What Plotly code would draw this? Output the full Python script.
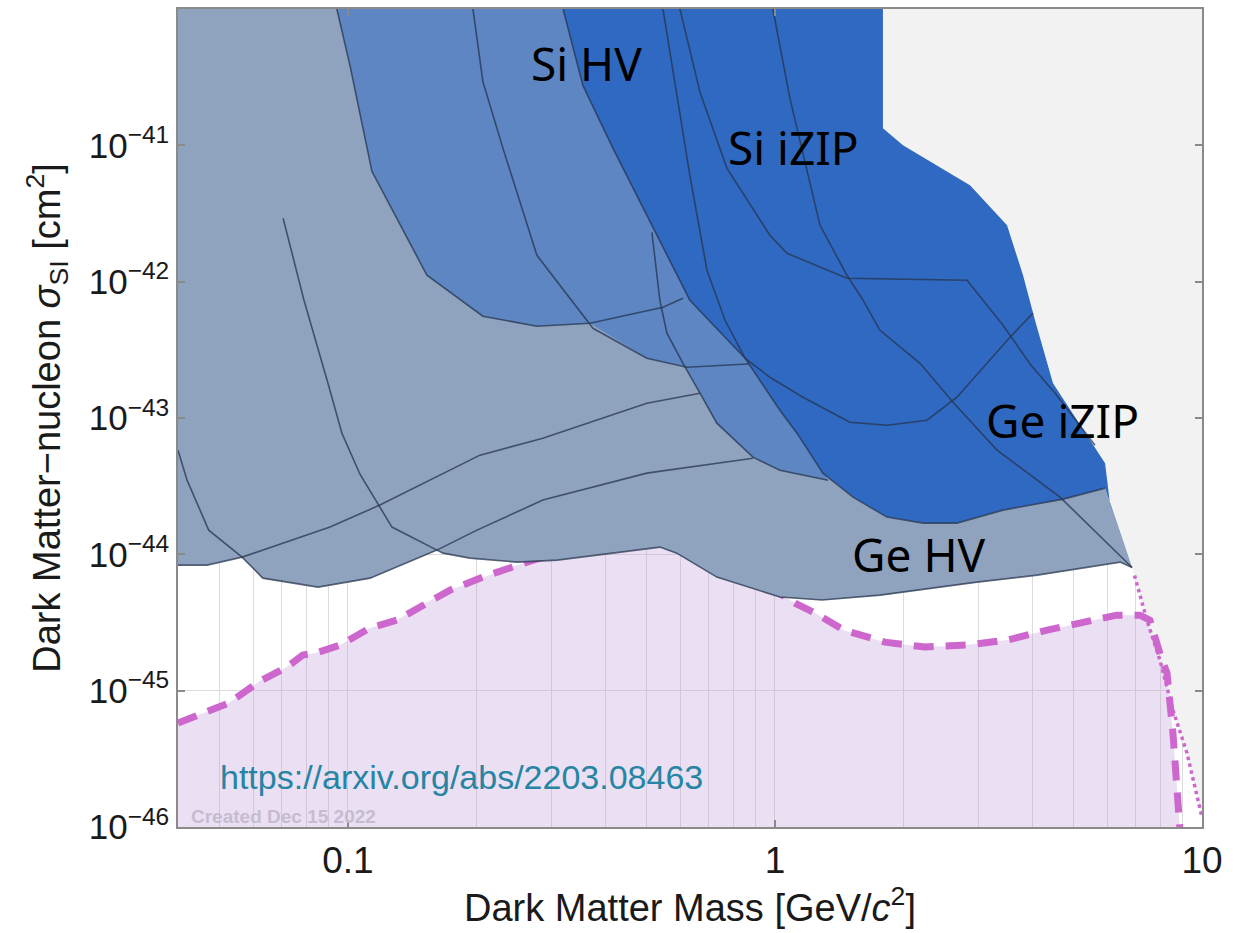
import math
import plotly.graph_objects as go

# ---------------- axis limits ----------------
X_MIN, X_MAX = 0.04, 10.0
Y_MIN, Y_MAX = 1e-46, 1e-40

# ---------------- Ge HV (lower exclusion edge and curves) ----------------
GE_HV_EDGE_M = [0.04, 0.0468, 0.0565, 0.0632, 0.0851, 0.1126, 0.1616, 0.167, 0.193, 0.249, 0.309,
                0.411, 0.538, 0.589, 0.731, 1.027, 1.289, 1.762, 2.97, 4.11, 6.43, 6.86]
GE_HV_EDGE_S = [8.34e-45, 8.34e-45, 9.54e-45, 6.69e-45, 5.75e-45, 6.69e-45, 1.074e-44, 1.02e-44, 9.38e-45,
                8.77e-45, 9.07e-45, 1.02e-44, 1.13e-44, 1.02e-44, 6.81e-45, 4.86e-45, 4.62e-45, 5.02e-45,
                6.25e-45, 7.04e-45, 8.77e-45, 8.0e-45]

GE_HV_A_M = [0.0705, 0.0789, 0.0898, 0.0968, 0.1067, 0.1188, 0.1268, 0.1616, 0.167, 0.193, 0.249, 0.309,
             0.411, 0.538, 0.589, 0.731, 1.027, 1.289, 1.762, 2.97, 4.11, 6.43, 6.86]
GE_HV_A_S = [2.92e-42, 7.31e-43, 1.80e-43, 7.74e-44, 3.87e-44, 2.22e-44, 1.585e-44, 1.074e-44, 1.02e-44,
             9.38e-45, 8.77e-45, 9.07e-45, 1.02e-44, 1.13e-44, 1.02e-44, 6.81e-45, 4.86e-45, 4.62e-45,
             5.02e-45, 6.25e-45, 7.04e-45, 8.77e-45, 8.0e-45]
GE_HV_B_M = [0.04, 0.042, 0.0472, 0.0565, 0.0632, 0.0851, 0.1126, 0.1616, 0.2005, 0.286, 0.501, 0.888]
GE_HV_B_S = [5.81e-44, 3.50e-44, 1.505e-44, 9.54e-45, 6.69e-45, 5.75e-45, 6.69e-45, 1.074e-44, 1.505e-44,
             2.50e-44, 3.94e-44, 5.07e-44]
GE_HV_C_M = [0.04, 0.0468, 0.0565, 0.0908, 0.1188, 0.1556, 0.2038, 0.286, 0.501, 0.6675]
GE_HV_C_S = [8.34e-45, 8.34e-45, 9.54e-45, 1.585e-44, 2.30e-44, 3.50e-44, 5.34e-44, 7.11e-44, 1.284e-43, 1.52e-43]

# ---------------- Si HV ----------------
SI_HV_EDGE_M = [0.0942, 0.1011, 0.1138, 0.1531, 0.207, 0.277, 0.3688, 0.501, 0.615, 0.6675, 0.731, 0.888,
                1.027, 1.331]
SI_HV_EDGE_S = [1e-40, 3.86e-41, 6.45e-42, 1.114e-42, 5.58e-43, 4.71e-43, 4.95e-43, 2.745e-43, 2.40e-43,
                1.52e-43, 9.16e-44, 5.16e-44, 4.14e-44, 3.50e-44]
SI_HV_A_M = [0.0942, 0.1011, 0.1138, 0.1531, 0.207, 0.277, 0.3688, 0.5467, 0.609]
SI_HV_A_S = [1e-40, 3.86e-41, 6.45e-42, 1.114e-42, 5.58e-43, 4.71e-43, 4.95e-43, 6.49e-43, 7.55e-43]
SI_HV_B_M = [0.1962, 0.207, 0.2307, 0.277, 0.3748, 0.501, 0.622, 0.884]
SI_HV_B_S = [1e-40, 2.94e-41, 9.5e-42, 1.561e-42, 4.55e-43, 2.745e-43, 2.357e-43, 2.5e-43]
SI_HV_C_M = [0.515, 0.538, 0.5585, 0.609, 0.6675, 0.731, 0.888, 1.027, 1.331]
SI_HV_C_S = [2.30e-42, 7.18e-43, 4.19e-43, 2.52e-43, 1.52e-43, 9.16e-44, 5.16e-44, 4.14e-44, 3.50e-44]

# ---------------- iZIP (Si + Ge) ----------------
IZIP_EDGE_M = [0.319, 0.355, 0.4175, 0.510, 0.632, 0.851, 1.027, 1.126, 1.295, 1.523, 1.829, 2.222, 2.668,
               3.42, 4.73, 5.93, 6.86]
IZIP_EDGE_S = [1e-40, 2.75e-41, 9.5e-42, 2.77e-42, 7.31e-43, 2.745e-43, 1.14e-43, 7.74e-44, 3.94e-44,
               2.63e-44, 1.875e-44, 1.694e-44, 1.694e-44, 2.11e-44, 2.54e-44, 3.06e-44, 8.0e-45]
IZIP_RIGHT_M = [1.79, 1.79, 1.994, 2.862, 3.495, 3.81, 4.064, 4.478, 5.468, 5.93, 6.087, 6.86]
IZIP_RIGHT_S = [1e-40, 1.333e-41, 1e-41, 5.09e-42, 2.59e-42, 1.114e-42, 5.21e-43, 1.80e-43, 6.88e-44,
                4.66e-44, 2.37e-44, 8.0e-45]
IZIP_F_M = [0.319, 0.355, 0.4175, 0.510, 0.632, 0.851, 0.973, 1.163, 1.498, 1.829, 2.27, 2.668, 3.55, 4.02]
IZIP_F_S = [1e-40, 2.75e-41, 9.5e-42, 2.77e-42, 7.31e-43, 2.745e-43, 1.99e-43, 1.42e-43, 9.31e-44, 8.85e-44,
            9.64e-44, 1.42e-43, 3.91e-43, 5.87e-43]
IZIP_D1_M = [0.5467, 0.589, 0.632, 0.693, 0.764, 0.851, 1.027, 1.126, 1.295, 1.523, 1.829, 2.222, 2.668,
             3.42, 4.73, 5.93]
IZIP_D1_S = [1e-40, 2.45e-41, 6.03e-42, 1.213e-42, 5.21e-43, 2.745e-43, 1.14e-43, 7.74e-44, 3.94e-44,
             2.63e-44, 1.875e-44, 1.694e-44, 1.694e-44, 2.11e-44, 2.54e-44, 3.06e-44]
IZIP_D2_M = [0.599, 0.6675, 0.772, 0.973, 1.067, 1.474, 2.817, 3.42, 3.977, 4.53, 5.615]
IZIP_D2_S = [1e-40, 2.45e-41, 6.78e-42, 2.19e-42, 1.615e-42, 1.059e-42, 1.024e-42, 4.79e-43, 2.44e-43,
             1.52e-43, 6.32e-44]
IZIP_E_M = [0.989, 1.084, 1.275, 1.474, 1.608, 1.762, 2.186, 2.612, 3.311, 4.65, 6.86]
IZIP_E_S = [1e-40, 2.21e-41, 2.59e-42, 1.114e-42, 7.31e-43, 4.40e-43, 2.52e-43, 1.305e-43, 5.81e-44,
            2.63e-44, 8.0e-45]

# ---------------- neutrino fog ----------------
NU_FLOOR_M = [0.04, 0.0526, 0.0622, 0.072, 0.0784, 0.0841, 0.0958, 0.1126, 0.1302, 0.1531, 0.1733, 0.207,
              0.2357, 0.2668, 0.2972, 0.389, 0.510, 0.6675, 0.874, 1.114, 1.241, 1.451, 1.81, 2.245, 2.80,
              3.495, 4.335, 5.555, 6.32, 7.157, 7.55, 8.017, 8.28, 8.55, 8.74, 8.88]
NU_FLOOR_S = [5.79e-46, 8.11e-46, 1.175e-45, 1.49e-45, 1.824e-45, 1.887e-45, 2.16e-45, 2.88e-45, 3.29e-45,
              4.46e-45, 5.46e-45, 6.81e-45, 7.92e-45, 8.91e-45, 9.87e-45, 1.168e-44, 1.27e-44, 1.074e-44,
              7.04e-45, 4.39e-45, 3.71e-45, 2.78e-45, 2.27e-45, 2.09e-45, 2.16e-45, 2.35e-45, 2.78e-45,
              3.29e-45, 3.58e-45, 3.58e-45, 3.29e-45, 1.763e-45, 1.346e-45, 4.89e-46, 1.965e-46, 9.5e-47]
NU_DOT_M = [6.95, 7.12, 7.43, 7.97, 8.55, 9.22, 10.0]
NU_DOT_S = [7.0e-45, 5.28e-45, 3.29e-45, 1.676e-45, 7.21e-46, 3.49e-46, 1.18e-46]

# ---------------- tick labels ----------------
X_TICKS = [0.1, 1, 10]
X_TICK_TEXT = ["0.1", "1", "10"]
Y_EXPONENTS = [-46, -45, -44, -43, -42, -41]

LABELS = ["Si HV", "Si iZIP", "Ge iZIP", "Ge HV"]

# ---------------- styles ----------------
C_GEHV = "#8fa3be"
C_SIHV = "#5d86c3"
C_IZIP = "#3069c1"
C_LINE = "rgba(38,52,78,0.75)"
C_OUT = "#f2f2f2"
C_FOG = "rgba(185,150,215,0.30)"
C_DASH = "#cd66cd"

fig = go.Figure()


def poly(xs, ys, color):
    fig.add_trace(go.Scatter(x=xs, y=ys, mode="lines", fill="toself", fillcolor=color,
                             line=dict(width=0, color=color), hoverinfo="skip"))


def curve(xs, ys, color=C_LINE, width=1.6, dash=None):
    fig.add_trace(go.Scatter(x=xs, y=ys, mode="lines",
                             line=dict(width=width, color=color, dash=dash), hoverinfo="skip"))


# neutrino fog fill (below dashed curve)
poly(NU_FLOOR_M + [NU_FLOOR_M[-1], NU_FLOOR_M[0]],
     NU_FLOOR_S + [Y_MIN / 10, Y_MIN / 10], C_FOG)

# region outside all projections (upper right)
poly(IZIP_RIGHT_M + NU_DOT_M[1:] + [X_MAX, X_MAX],
     IZIP_RIGHT_S + NU_DOT_S[1:] + [Y_MIN, Y_MAX], C_OUT)

# neutrino curves
curve(NU_FLOOR_M, NU_FLOOR_S, C_DASH, 7, "20px,12px")
curve(NU_DOT_M, NU_DOT_S, C_DASH, 3.5, "dot")

# Ge HV
poly([X_MIN] + GE_HV_EDGE_M + IZIP_EDGE_M[::-1],
     [Y_MAX] + GE_HV_EDGE_S + IZIP_EDGE_S[::-1], C_GEHV)
curve(GE_HV_A_M, GE_HV_A_S)
curve(GE_HV_B_M, GE_HV_B_S)
curve(GE_HV_C_M, GE_HV_C_S)

# Si HV
poly(SI_HV_EDGE_M + [IZIP_EDGE_M[0]], SI_HV_EDGE_S + [IZIP_EDGE_S[0]], C_SIHV)
curve(SI_HV_A_M, SI_HV_A_S)
curve(SI_HV_B_M, SI_HV_B_S)
curve(SI_HV_C_M, SI_HV_C_S)

# iZIP
poly(IZIP_EDGE_M + IZIP_RIGHT_M[::-1], IZIP_EDGE_S + IZIP_RIGHT_S[::-1], C_IZIP)
curve(IZIP_F_M, IZIP_F_S)
curve(IZIP_D1_M, IZIP_D1_S)
curve(IZIP_D2_M, IZIP_D2_S)
curve(IZIP_E_M, IZIP_E_S)

# labels
label_pos = [(0.399, 0.934), (0.601, 0.831), (0.864, 0.497), (0.7236, 0.334)]
for txt, (px, py) in zip(LABELS, label_pos):
    fig.add_annotation(text=txt, x=px, y=py, xref="paper", yref="paper", showarrow=False,
                       xanchor="center", yanchor="middle",
                       font=dict(family="Noto Sans", size=46, color="#000000"))

fig.add_annotation(text="https://arxiv.org/abs/2203.08463", x=0.039, y=0.061, xref="paper", yref="paper",
                   xanchor="left", yanchor="middle", showarrow=False,
                   font=dict(family="Liberation Sans", size=34, color="#2585a2"))
fig.add_annotation(text="<b>Created Dec 15 2022</b>", x=0.0107, y=0.013, xref="paper", yref="paper",
                   xanchor="left", yanchor="middle", showarrow=False,
                   font=dict(family="Liberation Sans", size=19, color="#c6bcd1"))

minor_x = [m * 10 ** d for d in range(-2, 1) for m in range(2, 10)]
minor_x = [v for v in minor_x if X_MIN < v < X_MAX]

axis_common = dict(showline=True, linecolor="#8a8a8a", linewidth=1.5, mirror="ticks",
                   ticks="inside", ticklen=7, tickwidth=1.5, tickcolor="#8a8a8a",
                   showgrid=True, gridcolor="#dcdcdc", gridwidth=1, zeroline=False)

fig.update_xaxes(type="log", range=[math.log10(X_MIN), math.log10(X_MAX)],
                 tickvals=X_TICKS, ticktext=X_TICK_TEXT,
                 tickfont=dict(family="Liberation Sans", size=37, color="#1a1a1a"),
                 minor=dict(tickvals=minor_x, showgrid=True, gridcolor="#dcdcdc", gridwidth=1, ticks=""),
                 title=dict(text="Dark Matter Mass [GeV/<i>c</i><sup>2</sup>]", standoff=8,
                            font=dict(family="Liberation Sans", size=38, color="#1a1a1a")),
                 **axis_common)
fig.update_yaxes(type="log", range=[math.log10(Y_MIN), math.log10(Y_MAX)],
                 tickvals=[10.0 ** e for e in Y_EXPONENTS],
                 ticktext=["10<sup>\u2212%d</sup>" % (-e) for e in Y_EXPONENTS],
                 tickfont=dict(family="Liberation Sans", size=35, color="#1a1a1a"),
                 title=dict(text="Dark Matter\u2212nucleon <i>\u03c3</i><sub>SI</sub> [cm<sup>2</sup>]",
                            standoff=16, font=dict(family="Liberation Sans", size=38, color="#1a1a1a")),
                 **axis_common)

fig.update_layout(width=1237, height=933, margin=dict(l=178, r=35, t=9, b=106, autoexpand=False),
                  paper_bgcolor="white", plot_bgcolor="white", showlegend=False)

fig.write_html("out.html", config={"displayModeBar": False},
               post_script="document.body.style.margin='0px';document.body.style.overflow='hidden';")
